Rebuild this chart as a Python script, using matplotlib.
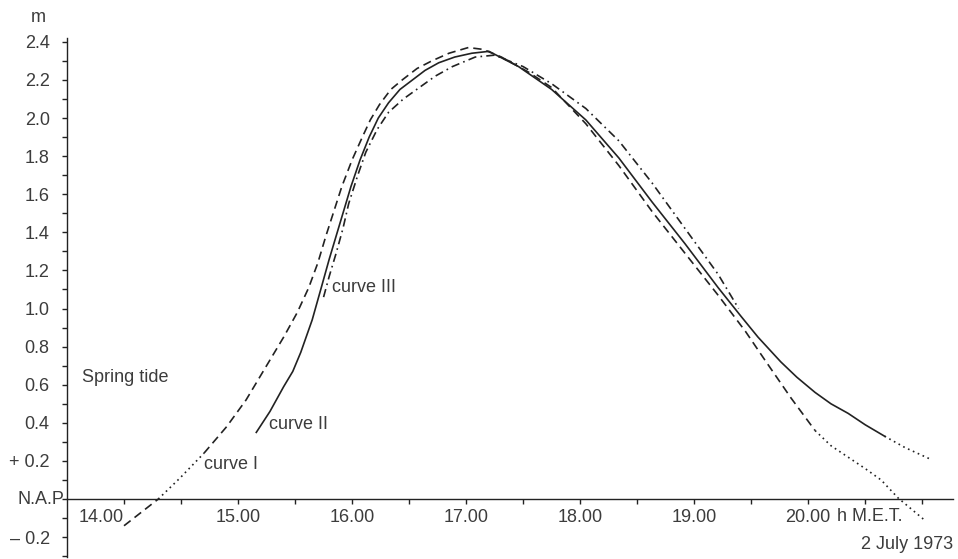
import numpy as np
import matplotlib.pyplot as plt

plt.rcParams['font.family'] = ['Liberation Sans', 'DejaVu Sans']

# tide curves, 2 July 1973 (hours M.E.T., metres above N.A.P.)
curve1_t = [14.00, 14.15, 14.30, 14.49, 14.70, 14.90, 15.07, 15.22, 15.40, 15.52,
            15.62, 15.70, 15.77, 15.84, 15.91, 16.00, 16.09, 16.16, 16.24, 16.34,
            16.44, 16.57, 16.70, 16.85, 17.02, 17.15, 17.31, 17.55, 17.75, 18.05,
            18.34, 18.63, 18.92, 19.21, 19.45, 19.62, 19.85, 20.06, 20.20, 20.35,
            20.50, 20.64, 20.79, 21.02]
curve1_h = [-0.14, -0.07, 0.00, 0.11, 0.24, 0.38, 0.52, 0.67, 0.85, 0.98,
            1.11, 1.24, 1.38, 1.51, 1.64, 1.78, 1.90, 1.99, 2.07, 2.15,
            2.20, 2.26, 2.30, 2.34, 2.37, 2.36, 2.32, 2.24, 2.16, 1.97,
            1.75, 1.51, 1.29, 1.07, 0.88, 0.73, 0.53, 0.36, 0.28, 0.22,
            0.16, 0.10, 0.005, -0.11]

curve2_t = [15.16, 15.28, 15.40, 15.48, 15.55, 15.65, 15.73, 15.80, 15.86, 15.93,
            15.99, 16.07, 16.15, 16.23, 16.32, 16.42, 16.53, 16.64, 16.76, 16.90,
            17.05, 17.20, 17.46, 17.75, 18.05, 18.34, 18.63, 18.92, 19.21, 19.41,
            19.56, 19.76, 19.90, 20.06, 20.20, 20.35, 20.50, 20.67, 20.85, 21.07]
curve2_h = [0.35, 0.46, 0.59, 0.67, 0.77, 0.94, 1.11, 1.26, 1.38, 1.52,
            1.64, 1.78, 1.90, 2.00, 2.08, 2.15, 2.20, 2.25, 2.29, 2.32,
            2.34, 2.35, 2.27, 2.15, 1.99, 1.79, 1.56, 1.34, 1.11, 0.96,
            0.85, 0.72, 0.64, 0.56, 0.50, 0.45, 0.39, 0.33, 0.27, 0.21]

curve3_t = [15.75, 15.80, 15.86, 15.92, 15.97, 16.05, 16.12, 16.22, 16.32, 16.45,
            16.59, 16.73, 16.88, 17.08, 17.25, 17.50, 17.75, 18.05, 18.34, 18.63,
            18.92, 19.21, 19.39]
curve3_h = [1.06, 1.17, 1.29, 1.42, 1.55, 1.70, 1.82, 1.94, 2.03, 2.10,
            2.16, 2.22, 2.27, 2.32, 2.33, 2.27, 2.18, 2.05, 1.88, 1.66,
            1.42, 1.18, 1.00]

x_ticks = [14, 15, 16, 17, 18, 19, 20]
x_labels = ['14.00', '15.00', '16.00', '17.00', '18.00', '19.00', '20.00']
y_ticks = [-0.2, 0.0, 0.2, 0.4, 0.6, 0.8, 1.0, 1.2, 1.4, 1.6, 1.8, 2.0, 2.2, 2.4]
y_labels = ['\u2013 0.2', '', '+ 0.2', '0.4', '0.6', '0.8', '1.0', '1.2', '1.4',
            '1.6', '1.8', '2.0', '2.2', '2.4']

ink = '#222222'
txt = '#3c3c3c'
fs = 13

fig = plt.figure(figsize=(9.58, 5.59), dpi=100)
ax = fig.add_axes([67 / 958, 1 - 557 / 559, (953 - 67) / 958, (557 - 38) / 559])

dash = (0, (5, 3))
dot = (0, (1, 2.2))
dashdot = (0, (5, 2.5, 1, 2.5))
lw = 1.2

# curve I: dashed, dotted where uncertain
t1 = np.array(curve1_t)
h1 = np.array(curve1_h)
ax.plot(t1[0:3], h1[0:3], color=ink, lw=lw, linestyle=dash)
ax.plot(t1[2:5], h1[2:5], color=ink, lw=lw, linestyle=dot)
ax.plot(t1[4:38], h1[4:38], color=ink, lw=lw, linestyle=dash)
ax.plot(t1[37:], h1[37:], color=ink, lw=lw, linestyle=dot)

# curve II: solid with dotted tail
t2 = np.array(curve2_t)
h2 = np.array(curve2_h)
ax.plot(t2[0:38], h2[0:38], color=ink, lw=lw, linestyle='-')
ax.plot(t2[37:], h2[37:], color=ink, lw=lw, linestyle=dot)

# curve III: dash-dot
ax.plot(curve3_t, curve3_h, color=ink, lw=lw, linestyle=dashdot)

ax.set_xlim(13.5, 21.27)
ax.set_ylim(-0.304, 2.42)

for s in ['top', 'right']:
    ax.spines[s].set_visible(False)
ax.spines['bottom'].set_position(('data', 0))
ax.spines['left'].set_color(ink)
ax.spines['bottom'].set_color(ink)
ax.spines['left'].set_linewidth(1.0)
ax.spines['bottom'].set_linewidth(1.0)

ax.set_xticks(np.arange(14, 21.01, 0.5), minor=True)
ax.set_xticks(x_ticks)
ax.set_xticklabels(x_labels)
ax.set_yticks(np.arange(-0.3, 2.41, 0.1), minor=True)
ax.set_yticks(y_ticks)
ax.set_yticklabels(y_labels)
ax.tick_params(axis='both', which='both', direction='out', length=3.5,
               width=1.0, color=ink, labelcolor=txt, labelsize=fs)
ax.tick_params(axis='x', pad=4)
ax.tick_params(axis='y', pad=9)
ax.get_xticklabels()[0].set_horizontalalignment('right')

ax.text(-0.003, 0.0, 'N.A.P', transform=ax.get_yaxis_transform(), ha='right',
        va='center', fontsize=fs, color=txt)
fig.text(38 / 958, 1 - 18 / 559, 'm', ha='center', va='center', fontsize=fs, color=txt)
ax.text(20.25, -0.045, 'h M.E.T.', ha='left', va='top', fontsize=fs, color=txt)
ax.text(1.0, -0.24, '2 July 1973', ha='right', va='center', fontsize=fs, color=txt,
        transform=ax.get_yaxis_transform())

ax.text(13.63, 0.64, 'Spring tide', ha='left', va='center', fontsize=fs, color=txt)
ax.text(14.70, 0.18, 'curve I', ha='left', va='center', fontsize=fs, color=txt)
ax.text(15.27, 0.39, 'curve II', ha='left', va='center', fontsize=fs, color=txt)
ax.text(15.82, 1.11, 'curve III', ha='left', va='center', fontsize=fs, color=txt)

fig.savefig('out.png', dpi=100)
